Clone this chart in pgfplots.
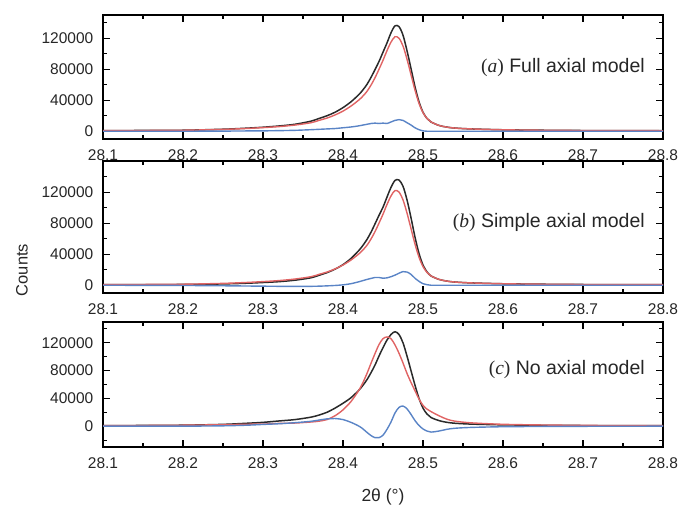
\documentclass[border=0pt]{standalone}
\usepackage{fontspec}
\setmainfont{Liberation Sans}
\newfontfamily\tnr{Liberation Serif}
\usepackage{pgfplots}
\usepackage{pgfplotstable}
\pgfplotsset{compat=1.18}

\definecolor{obs}{HTML}{2A2A2A}
\definecolor{calc}{HTML}{E06464}
\definecolor{diff}{HTML}{5A84C6}
\definecolor{txt}{HTML}{262626}

% panel (a): full axial model
\pgfplotstableread{
x       obs     calc    diff
28.100  900     900     0
28.150  1000    1000    0
28.200  1300    1300    0
28.250  2600    2400    200
28.280  4000    3600    400
28.300  5200    4700    500
28.320  6800    6000    800
28.340  9000    8000    1200
28.360  13000   11000   2000
28.370  16500   14000   2500
28.380  20000   17000   3000
28.390  24500   21000   3500
28.400  30500   26000   4500
28.410  38000   32500   5500
28.420  47500   40500   7000
28.425  53500   45500   8000
28.430  60500   51500   9000
28.435  69500   59500   10000
28.440  79500   69000   10500
28.445  90000   80000   10000
28.450  102000  91500   10500
28.455  114000  104000  10000
28.460  127000  115000  12000
28.465  136000  122000  14000
28.470  135000  120000  15000
28.475  124000  110000  14000
28.480  104000  93000   11000
28.485  81000   73000   8000
28.490  57500   53000   4500
28.495  38000   36000   2000
28.500  24500   24000   500
28.505  16500   16500   0
28.510  12000   12000   0
28.520  7500    7500    0
28.530  5300    5300    0
28.540  4100    4100    0
28.560  3000    3000    0
28.600  1900    1900    0
28.650  1300    1300    0
28.700  950     950     0
28.750  800     800     0
28.800  700     700     0
}\panela

% panel (b): simple axial model
\pgfplotstableread{
x       obs     calc    diff
28.100  900     900     0
28.150  850     1000    -150
28.200  1000    1300    -300
28.250  1700    2400    -700
28.280  2600    3600    -1000
28.300  3500    4700    -1200
28.320  4600    6000    -1400
28.340  6500    8000    -1500
28.360  9600    11000   -1400
28.370  12800   14000   -1200
28.380  16200   17000   -800
28.390  20700   21000   -300
28.400  26500   26000   500
28.410  34500   32500   2000
28.420  45000   40500   4500
28.425  51500   45500   6000
28.430  59000   51500   7500
28.435  68300   59500   8800
28.440  79000   69000   10000
28.445  90000   80000   10000
28.450  100500  91500   9000
28.455  113500  104000  9500
28.460  126000  115000  11000
28.465  135000  122000  13000
28.470  135500  120000  15500
28.475  127500  110000  17500
28.480  110000  93000   17000
28.485  87000   73000   14000
28.490  62000   53000   9000
28.495  41000   36000   5000
28.500  26000   24000   2000
28.505  17200   16500   700
28.510  12000   12000   0
28.520  7500    7500    0
28.530  5300    5300    0
28.540  4100    4100    0
28.560  3000    3000    0
28.600  1900    1900    0
28.650  1300    1300    0
28.700  950     950     0
28.750  800     800     0
28.800  700     700     0
}\panelb

% panel (c): no axial model
\pgfplotstableread{
x       obs     calc    diff
28.100  900     900     0
28.150  1000    1000    0
28.200  1400    1400    0
28.250  2600    2100    500
28.280  4200    2800    1400
28.300  5500    3000    2500
28.320  7500    4000    3500
28.340  9500    4500    5000
28.360  13000   6000    7000
28.370  16000   7200    8800
28.380  20000   9500    10500
28.390  26000   15000   11000
28.400  33000   23500   9500
28.410  41000   35500   5500
28.420  52000   52000   0
28.425  59000   63000   -4000
28.430  67000   76000   -9000
28.435  77000   90500   -13500
28.440  88000   104500  -16500
28.445  101000  117500  -16500
28.450  113000  126000  -13000
28.455  124000  128500  -4500
28.460  132000  126000  6000
28.465  136000  117000  19000
28.470  132000  105000  27000
28.475  120000  91000   29000
28.480  101000  76000   25000
28.485  80000   63000   17000
28.490  59000   51000   8000
28.495  40000   39000   1000
28.500  26000   30000   -4000
28.505  17500   24500   -7000
28.510  12500   21000   -8500
28.520  8000    15000   -7000
28.530  5500    10000   -4500
28.540  4200    7200    -3000
28.560  3000    4800    -1800
28.600  1900    2700    -800
28.650  1300    1700    -400
28.700  950     1150    -200
28.750  800     900     -100
28.800  700     700     0
}\panelc

\pgfplotsset{
  panel/.style={
    scale only axis, width=560pt, anchor=north west,
    xmin=28.1, xmax=28.8,
    xtick={28.1,28.2,28.3,28.4,28.5,28.6,28.7,28.8},
    xticklabels={28.1,28.2,28.3,28.4,28.5,28.6,28.7,28.8},
    minor x tick num=1,
    scaled y ticks=false, scaled x ticks=false,
    ytick={0,40000,80000,120000},
    yticklabels={0,40000,80000,120000},
    minor ytick={-20000,20000,60000,100000,140000},
    tick align=inside,
    major tick length=7pt, minor tick length=4pt,
    every tick/.style={black, line width=1.1pt},
    axis line style={black, line width=1.3pt},
    ticklabel style={font=\fontsize{15.5}{18}\selectfont, text=txt, inner sep=0pt},
    xticklabel style={anchor=north, yshift=-10.5pt},
    yticklabel style={anchor=east, xshift=-9.5pt},
    /pgf/number format/assume math mode=true,
    clip=false,
  },
  obsline/.style={obs, line width=1.5pt, smooth, tension=0.5},
  calcline/.style={calc, line width=1.4pt, smooth, tension=0.5},
  diffline/.style={diff, line width=1.4pt, smooth, tension=0.5},
}
\tikzset{lbl/.style={anchor=east, inner sep=0pt, font=\fontsize{19.5}{22}\selectfont, text=txt}}

\begin{document}
\begin{tikzpicture}
\useasboundingbox (0pt,0pt) rectangle (682pt,-508pt);

\begin{axis}[panel, at={(103pt,-15pt)}, height=124pt, ymin=-10000, ymax=150000]
\addplot[obsline] table[x=x, y=obs] {\panela};
\addplot[calcline] table[x=x, y=calc] {\panela};
\addplot[diffline] table[x=x, y=diff] {\panela};
\node[lbl] at (axis cs:28.7775,82000) {{\tnr(\textit{a})} Full axial model};
\end{axis}

\begin{axis}[panel, at={(103pt,-161pt)}, height=132pt, ymin=-10000, ymax=160000]
\addplot[obsline] table[x=x, y=obs] {\panelb};
\addplot[calcline] table[x=x, y=calc] {\panelb};
\addplot[diffline] table[x=x, y=diff] {\panelb};
\node[lbl] at (axis cs:28.7775,81000) {{\tnr(\textit{b})} Simple axial model};
\end{axis}

\begin{axis}[panel, at={(103pt,-322pt)}, height=125pt, ymin=-30000, ymax=150000]
\addplot[obsline] table[x=x, y=obs] {\panelc};
\addplot[calcline] table[x=x, y=calc] {\panelc};
\addplot[diffline] table[x=x, y=diff] {\panelc};
\node[lbl] at (axis cs:28.7775,81000) {{\tnr(\textit{c})} No axial model};
\end{axis}

\node[rotate=90, font=\fontsize{16.5}{19}\selectfont, text=txt] at (22pt,-270pt) {Counts};
\node[font=\fontsize{17.5}{20}\selectfont, text=txt] at (383pt,-497pt) {2θ (°)};
\end{tikzpicture}
\end{document}
